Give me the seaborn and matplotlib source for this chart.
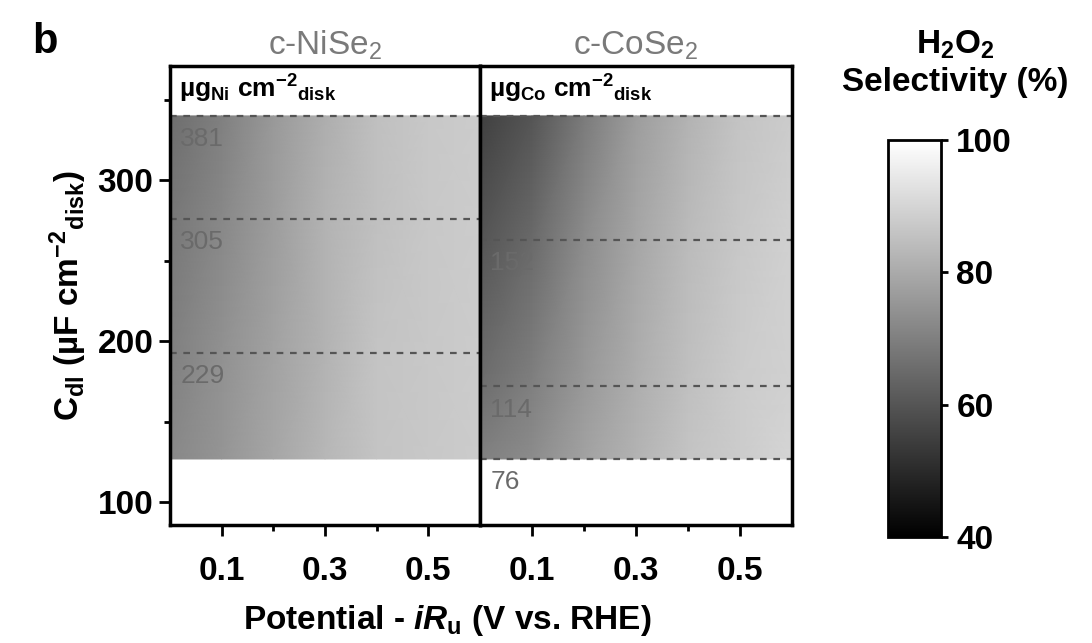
import numpy as np
import matplotlib
matplotlib.use("Agg")
import matplotlib.pyplot as plt
import seaborn as sns

# potential - iRu (V vs. RHE)
potential = [0.0, 0.1, 0.2, 0.3, 0.4, 0.5, 0.6]

# c-NiSe2: Cdl levels (uF cm-2) and H2O2 selectivity (%)
ni_cdl = [127, 193, 276, 340]
ni_sel = [
    [72, 75, 79, 83, 86, 87, 88],
    [70, 74, 78, 82, 86, 87, 88],
    [68, 72, 77, 82, 85, 87, 88],
    [66, 70, 76, 81, 85, 87, 88],
]
ni_lines = [193, 276, 340]
ni_load_at = [193, 276, 340]
ni_loading = ["229", "305", "381"]

# c-CoSe2
co_cdl = [127, 172, 263, 340]
co_sel = [
    [70, 73, 78, 82, 86, 88, 90],
    [66, 70, 76, 81, 85, 88, 89],
    [60, 65, 73, 79, 84, 87, 89],
    [55, 60, 69, 77, 82, 86, 88],
]
co_lines = [127, 172, 263, 340]
co_load_at = [127, 172, 263]
co_loading = ["76", "114", "152"]

sns.set_theme(style="ticks")
plt.rcParams["font.family"] = ["Liberation Sans", "DejaVu Sans"]
plt.rcParams["text.color"] = "black"
plt.rcParams["axes.labelcolor"] = "black"
plt.rcParams["xtick.color"] = "black"
plt.rcParams["ytick.color"] = "black"
plt.rcParams["mathtext.default"] = "regular"
plt.rcParams["mathtext.fontset"] = "custom"
plt.rcParams["mathtext.rm"] = "Liberation Sans"
plt.rcParams["mathtext.it"] = "Liberation Sans:italic:bold"
plt.rcParams["mathtext.bf"] = "Liberation Sans:bold"

fs = 24

fig = plt.figure(figsize=(10.92, 6.43), dpi=100)
ax1 = fig.add_axes([0.1557, 0.1835, 0.2839, 0.7139])
ax2 = fig.add_axes([0.4396, 0.1835, 0.2857, 0.7139])
cax = fig.add_axes([0.8132, 0.1649, 0.0485, 0.6174])


def panel(ax, cdl, sel, lines, load_at, loading, title, unit):
    X, Y = np.meshgrid(potential, cdl)
    mesh = ax.pcolormesh(X, Y, np.array(sel, dtype=float), cmap="gray",
                         vmin=40, vmax=100, shading="gouraud")
    for y in lines:
        ax.axhline(y, color="#555555", lw=1.6, ls=(0, (3, 3)))
    for y, s in zip(load_at, loading):
        ax.text(0.02, y - 7, s, color="#6a6a6a", fontsize=19,
                ha="left", va="top")
    ax.text(0.018, 367, unit, fontsize=19, fontweight="bold",
            ha="left", va="top")
    ax.set_xlim(0, 0.6)
    ax.set_ylim(86, 371)
    ax.set_xticks([0.1, 0.3, 0.5])
    ax.set_xticks([0.2, 0.4], minor=True)
    ax.set_xticklabels(["0.1", "0.3", "0.5"], fontsize=fs, fontweight="bold")
    ax.set_title(title, fontsize=fs, color="#7a7a7a", pad=8)
    for sp in ax.spines.values():
        sp.set_linewidth(2.5)
        sp.set_color("black")
    ax.tick_params(axis="x", which="major", length=8, width=2, pad=14)
    ax.tick_params(axis="x", which="minor", length=4, width=2)
    return mesh


mesh = panel(ax1, ni_cdl, ni_sel, ni_lines, ni_load_at, ni_loading,
             "c-NiSe$_2$", "µg$_{Ni}$ cm$^{-2}$$_{disk}$")
panel(ax2, co_cdl, co_sel, co_lines, co_load_at, co_loading,
      "c-CoSe$_2$", "µg$_{Co}$ cm$^{-2}$$_{disk}$")

ax1.set_yticks([100, 200, 300])
ax1.set_yticks([150, 250, 350], minor=True)
ax1.set_yticklabels(["100", "200", "300"], fontsize=fs, fontweight="bold")
ax1.tick_params(axis="y", which="major", length=8, width=2, pad=4)
ax1.tick_params(axis="y", which="minor", length=4, width=2)
ax1.set_ylabel("C$_{dl}$ (µF cm$^{-2}$$_{disk}$)", fontsize=fs,
               fontweight="bold", labelpad=6)
ax2.set_yticks([])

fig.text(0.41, 0.008, "Potential - $\\mathit{iR}_{u}$ (V vs. RHE)", fontsize=fs,
         fontweight="bold", ha="center", va="bottom")
fig.text(0.03, 0.935, "b", fontsize=30, fontweight="bold", ha="left", va="center")

cb = fig.colorbar(mesh, cax=cax, ticks=[40, 60, 80, 100])
cb.outline.set_linewidth(2)
cb.outline.set_edgecolor("black")
cax.tick_params(length=5, width=2, pad=6)
for t in cax.get_yticklabels():
    t.set_fontsize(fs)
    t.set_fontweight("bold")
fig.text(0.875, 0.93, "H$_2$O$_2$", fontsize=fs, fontweight="bold",
         ha="center", va="center")
fig.text(0.875, 0.872, "Selectivity (%)", fontsize=fs, fontweight="bold",
         ha="center", va="center")

fig.savefig("out.png", dpi=100)
